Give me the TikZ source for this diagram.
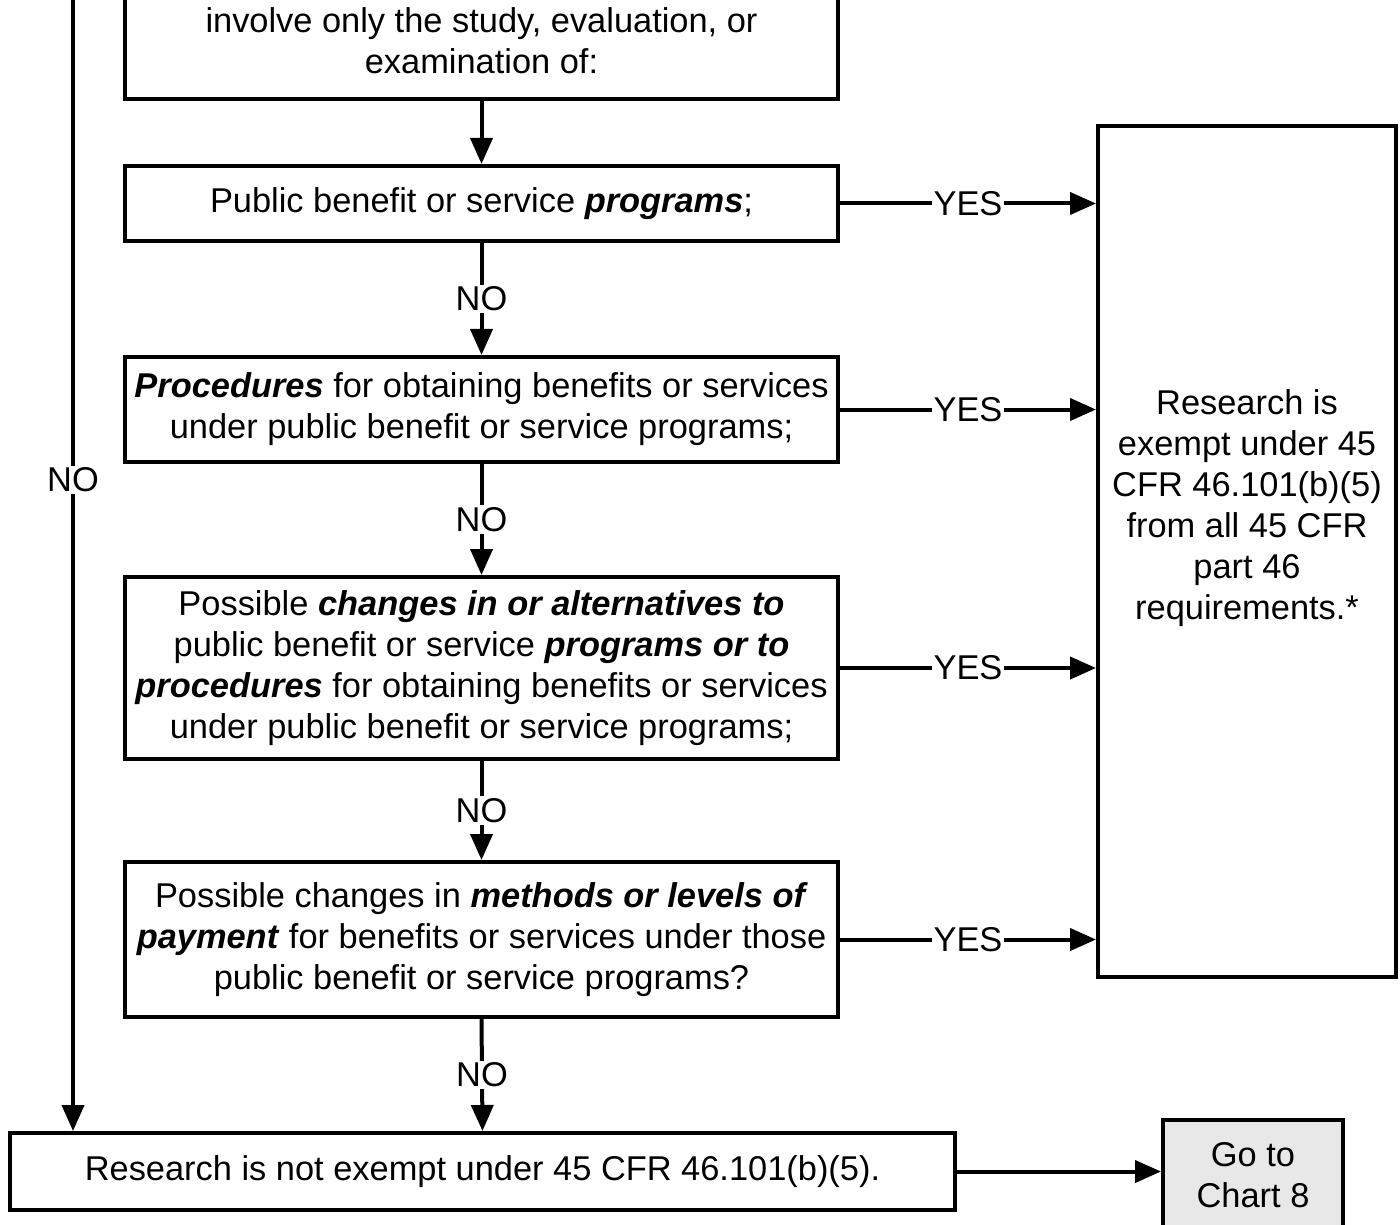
\documentclass[tikz,border=0pt]{standalone}
\usepackage{fontspec}
\setmainfont{Liberation Sans}
\usetikzlibrary{arrows.meta,positioning,calc}

\newcommand{\bi}[1]{\textbf{\textit{#1}}}

\begin{document}
\begin{tikzpicture}[x=0.5pt,y=-0.5pt,>={Triangle[length=13pt,width=11pt]},
  every node/.style={font=\fontsize{17.2}{20.5}\selectfont},
  box/.style={draw,line width=2pt,inner sep=0pt,align=center},
  lbl/.style={fill=white,inner sep=1pt},
  arr/.style={->,line width=2pt}]
\clip (0,0) rectangle (1400,1224);
% question boxes
\node[box,minimum width=356.5pt,minimum height=58pt] (intro) at (481.5,41) {involve only the study, evaluation, or\\examination of:};
\node[box,minimum width=356.5pt,minimum height=37.5pt] (progs) at (481.5,203.5) {Public benefit or service \bi{programs};};
\node[box,minimum width=356.5pt,minimum height=52.5pt] (procs) at (481.5,409.5) {\bi{Procedures} for obtaining benefits or services\\under public benefit or service programs;};
\node[box,minimum width=356.5pt,minimum height=91pt] (changes) at (481.5,668) {Possible \bi{changes in or alternatives to}\\public benefit or service \bi{programs or to}\\\bi{procedures} for obtaining benefits or services\\under public benefit or service programs;};
\node[box,minimum width=356.5pt,minimum height=77.5pt] (methods) at (481.5,939.5) {Possible changes in \bi{methods or levels of}\\\bi{payment} for benefits or services under those\\public benefit or service programs?};
% outcomes
\node[box,minimum width=472.5pt,minimum height=38.5pt] (notexempt) at (482.5,1171.5) {Research is not exempt under 45 CFR 46.101(b)(5).};
\node[box,minimum width=149pt,minimum height=425.5pt] (exempt) at (1247,551.5) {};
\node[align=center,inner sep=0pt] (exemptlbl) at (1247,508) {Research is\\exempt under 45\\CFR 46.101(b)(5)\\from all 45 CFR\\part 46\\requirements.*};
\node[box,fill=gray!18,minimum width=90pt,minimum height=55pt] (chart) at (1253,1175) {Go to\\Chart 8};
% connectors
\coordinate (leftTop) at (73,-10);
\draw[arr] (leftTop) -- (notexempt.north -| leftTop);
\node[lbl] (leftNo) at (73,480) {NO};
\draw[arr] (intro.south) -- (progs.north);
\draw[arr] (progs.south) -- (procs.north) node[midway,lbl] {NO};
\draw[arr] (procs.south) -- (changes.north) node[midway,lbl] {NO};
\draw[arr] (changes.south) -- (methods.north) node[midway,lbl] {NO};
\draw[arr] (methods.south) -- (notexempt.north) node[midway,lbl] {NO};
\foreach \q in {progs,procs,changes,methods}
  \draw[arr] (\q.east) -- (\q.east -| exempt.west) node[midway,lbl] {YES};
\draw[arr] (notexempt.east) -- (notexempt.east -| chart.west);
\end{tikzpicture}
\end{document}
